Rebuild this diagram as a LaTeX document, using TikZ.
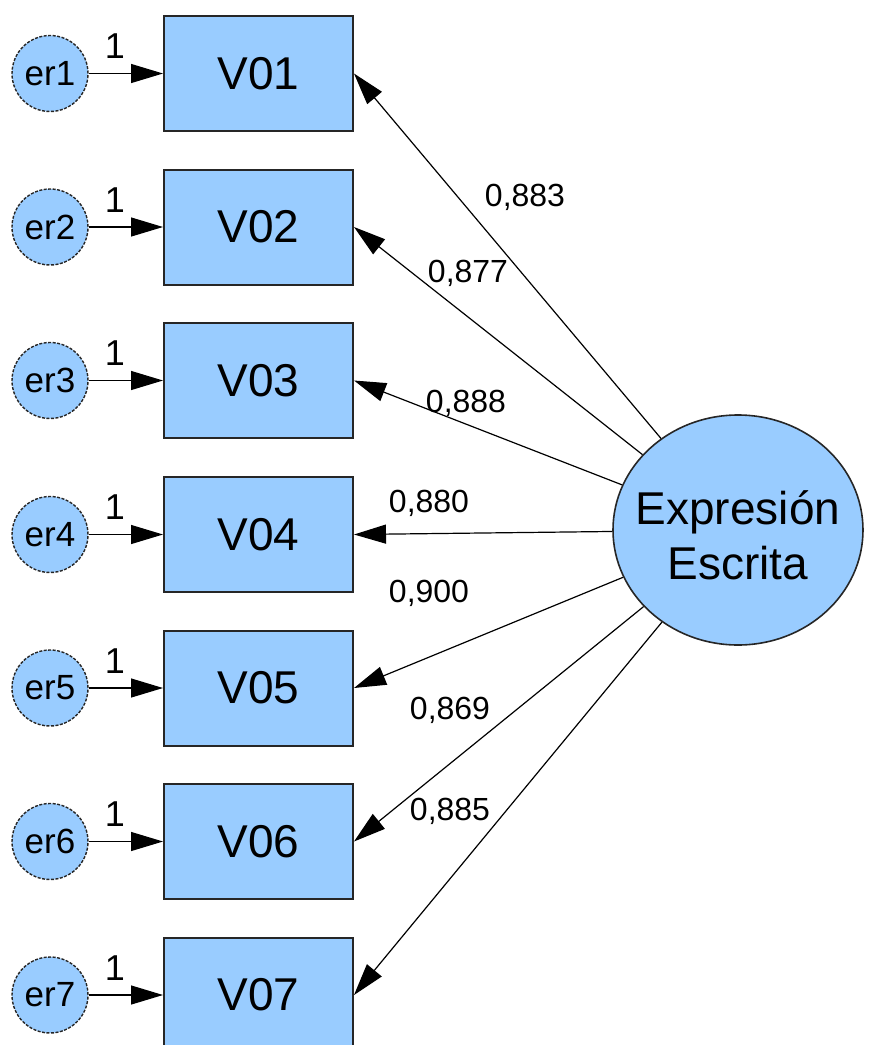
\documentclass[tikz,border=0pt]{standalone}
\usepackage{fontspec}
\setmainfont{Liberation Sans}
\usetikzlibrary{arrows.meta,shapes.geometric}
\definecolor{amosblue}{RGB}{153,204,255}

\begin{document}
\begin{tikzpicture}[x=1pt,y=-1pt,line width=1.2pt,>={Triangle[length=32pt,width=19pt]}]

	\def \errcol{50}
	\def \boxcol{258.5}
	\def \onecol{115}
	\tikzstyle{obs}=[draw=black!85,line width=2pt,fill=amosblue,minimum width=189pt,minimum height=115pt,inner sep=0pt,font=\fontsize{46}{50}\selectfont]
	\tikzstyle{err}=[circle,draw=black!85,line width=1.4pt,dash pattern=on 3pt off 1.5pt,fill=amosblue,minimum size=76pt,inner sep=0pt,font=\fontsize{35}{40}\selectfont]
	\tikzstyle{lat}=[ellipse,draw=black!85,line width=1.6pt,fill=amosblue,minimum width=250pt,minimum height=230pt,inner sep=0pt,font=\fontsize{46}{55}\selectfont]
	\tikzstyle{coef}=[font=\fontsize{32}{36}\selectfont]
	\tikzstyle{one}=[font=\fontsize{36}{40}\selectfont]

	\useasboundingbox (0,0) rectangle (873,1045);

	% observed variables
	\node[obs] 	(v1)	at (\boxcol,73.5)		{V01};
	\node[obs] 	(v2)	at (\boxcol,227)		{V02};
	\node[obs] 	(v3)	at (\boxcol,380.5)		{V03};
	\node[obs] 	(v4)	at (\boxcol,534.5)		{V04};
	\node[obs] 	(v5)	at (\boxcol,688)		{V05};
	\node[obs] 	(v6)	at (\boxcol,841.5)		{V06};
	\node[obs] 	(v7)	at (\boxcol,995)		{V07};

	% error terms
	\node[err] 	(e1)	at (\errcol,73.5)		{er1};
	\node[err] 	(e2)	at (\errcol,227)		{er2};
	\node[err] 	(e3)	at (\errcol,380.5)		{er3};
	\node[err] 	(e4)	at (\errcol,534.5)		{er4};
	\node[err] 	(e5)	at (\errcol,688)		{er5};
	\node[err] 	(e6)	at (\errcol,841.5)		{er6};
	\node[err] 	(e7)	at (\errcol,995)		{er7};

	% fixed weights
	\node[one] 	(w1)	at (\onecol,46)		{1};
	\node[one] 	(w2)	at (\onecol,200)		{1};
	\node[one] 	(w3)	at (\onecol,353.5)		{1};
	\node[one] 	(w4)	at (\onecol,507.5)		{1};
	\node[one] 	(w5)	at (\onecol,661)		{1};
	\node[one] 	(w6)	at (\onecol,814.5)		{1};
	\node[one] 	(w7)	at (\onecol,968)		{1};

	\draw[->] (e1) -- (v1);
	\draw[->] (e2) -- (v2);
	\draw[->] (e3) -- (v3);
	\draw[->] (e4) -- (v4);
	\draw[->] (e5) -- (v5);
	\draw[->] (e6) -- (v6);
	\draw[->] (e7) -- (v7);

	% latent factor (text smashed so the ellipse keeps its size)
	\node[lat] 	(ee)	at (738,530)		{\smash{\makebox[0pt]{\raisebox{-0.37em}{\begin{tabular}{@{}c@{}}Expresión\\Escrita\end{tabular}}}}};

	\draw[->] (ee) -- (v1.east);
	\draw[->] (ee) -- (v2.east);
	\draw[->] (ee) -- (v3.east);
	\draw[->] (ee) -- (v4.east);
	\draw[->] (ee) -- (v5.east);
	\draw[->] (ee) -- (v6.east);
	\draw[->] (ee) -- (v7.east);

	% loadings
	\node[coef] 	(l1)	at (525,197)		{0,883};
	\node[coef] 	(l2)	at (468,273)		{0,877};
	\node[coef] 	(l3)	at (466,403)		{0,888};
	\node[coef] 	(l4)	at (429,503)		{0,880};
	\node[coef] 	(l5)	at (429,593)		{0,900};
	\node[coef] 	(l6)	at (450,710)		{0,869};
	\node[coef] 	(l7)	at (450,811)		{0,885};
\end{tikzpicture}
\end{document}
